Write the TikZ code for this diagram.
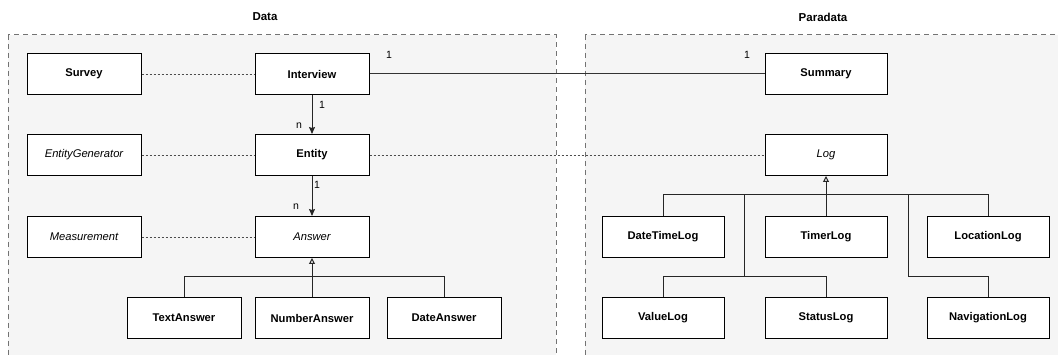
\documentclass[tikz,border=0pt]{standalone}
\usepackage{fontspec}
\setmainfont{Liberation Sans}
\usetikzlibrary{arrows.meta}
\begin{document}
\begin{tikzpicture}[x=1pt,y=-1pt,
  cls/.style={draw=black, line width=1pt, fill=white, minimum height=41pt, inner sep=0pt, font=\fontsize{11.2}{13}\selectfont\bfseries},
  dcls/.style={cls, minimum width=114pt},
  pcls/.style={cls, minimum width=122pt},
  abs/.style={font=\fontsize{11.2}{13}\selectfont\itshape},
  container/.style={draw=black!55, fill=black!4, dash pattern=on 5pt off 4pt, line width=1pt},
  dep/.style={draw=black!70, dash pattern=on 2pt off 2pt, line width=0.8pt},
  assoc/.style={draw=black!80, line width=1pt},
  nav/.style={draw=black!85, line width=1pt, -{Stealth[length=7pt,width=6pt,inset=1pt]}},
  inh/.style={draw=black!85, line width=1pt},
  inhtip/.style={inh, {Triangle[open,length=6pt,width=6pt]}-},
  mult/.style={font=\fontsize{10.5}{12}\selectfont, inner sep=0pt},
  title/.style={font=\fontsize{11.5}{13}\selectfont\bfseries}
]
\clip (0,0) rectangle (1058,355);
\fill[white] (0,0) rectangle (1058,355);
% containers
\path[container] (8,35) rectangle (556,370);
\path[container] (585,35) rectangle (1070,370);
\node[title] (tData) at (265,17) {Data};
\node[title] (tPara) at (823,17) {Paradata};
% Data nodes
\node[dcls] (Survey) at (84,74) {Survey};
\node[dcls] (Interview) at (312,74) {Interview};
\node[dcls, abs] (EntityGenerator) at (84,155) {EntityGenerator};
\node[dcls] (Entity) at (312,155) {Entity};
\node[dcls, abs] (Measurement) at (84,237) {Measurement};
\node[dcls, abs] (Answer) at (312,237) {Answer};
\node[dcls] (TextAnswer) at (184,318) {TextAnswer};
\node[dcls] (NumberAnswer) at (312,318) {NumberAnswer};
\node[dcls] (DateAnswer) at (444,318) {DateAnswer};
% Paradata nodes
\node[pcls] (Summary) at (826,74) {Summary};
\node[pcls, abs] (Log) at (826,155) {Log};
\node[pcls] (DateTimeLog) at (663,237) {DateTimeLog};
\node[pcls] (TimerLog) at (826,237) {TimerLog};
\node[pcls] (LocationLog) at (988,237) {LocationLog};
\node[pcls] (ValueLog) at (663,318) {ValueLog};
\node[pcls] (StatusLog) at (826,318) {StatusLog};
\node[pcls] (NavigationLog) at (988,318) {NavigationLog};
% dependencies
\draw[dep] (Survey) -- (Interview);
\draw[dep] (EntityGenerator) -- (Entity);
\draw[dep] (Entity) -- (Log);
\draw[dep] (Measurement) -- (Answer);
% associations
\draw[assoc] (Interview) -- (Summary);
\node[mult] (m1) at (389,55) {1};
\node[mult] (m2) at (747,55) {1};
\draw[nav] (Interview) -- (Entity);
\node[mult] (m3) at (322,105) {1};
\node[mult] (m4) at (299,126) {n};
\draw[nav] (Entity) -- (Answer);
\node[mult] (m5) at (317,185) {1};
\node[mult] (m6) at (296,207) {n};
% Answer inheritance
\coordinate (aj) at (312,277);
\draw[inhtip] (Answer) -- (aj);
\draw[inh] (aj) -| (TextAnswer);
\draw[inh] (aj) -| (DateAnswer);
\draw[inh] (aj) -- (NumberAnswer);
% Log inheritance
\coordinate (lj) at (826,195);
\coordinate (lja) at (744,195);
\coordinate (ljb) at (908,195);
\coordinate (ljc) at (744,277);
\coordinate (ljd) at (908,277);
\draw[inhtip] (Log) -- (lj);
\draw[inh] (lj) -| (DateTimeLog);
\draw[inh] (lj) -| (LocationLog);
\draw[inh] (lj) -- (TimerLog);
\draw[inh] (lja) -- (ljc);
\draw[inh] (ljc) -| (ValueLog);
\draw[inh] (ljc) -| (StatusLog);
\draw[inh] (ljb) -- (ljd);
\draw[inh] (ljd) -| (NavigationLog);
\end{tikzpicture}
\end{document}
